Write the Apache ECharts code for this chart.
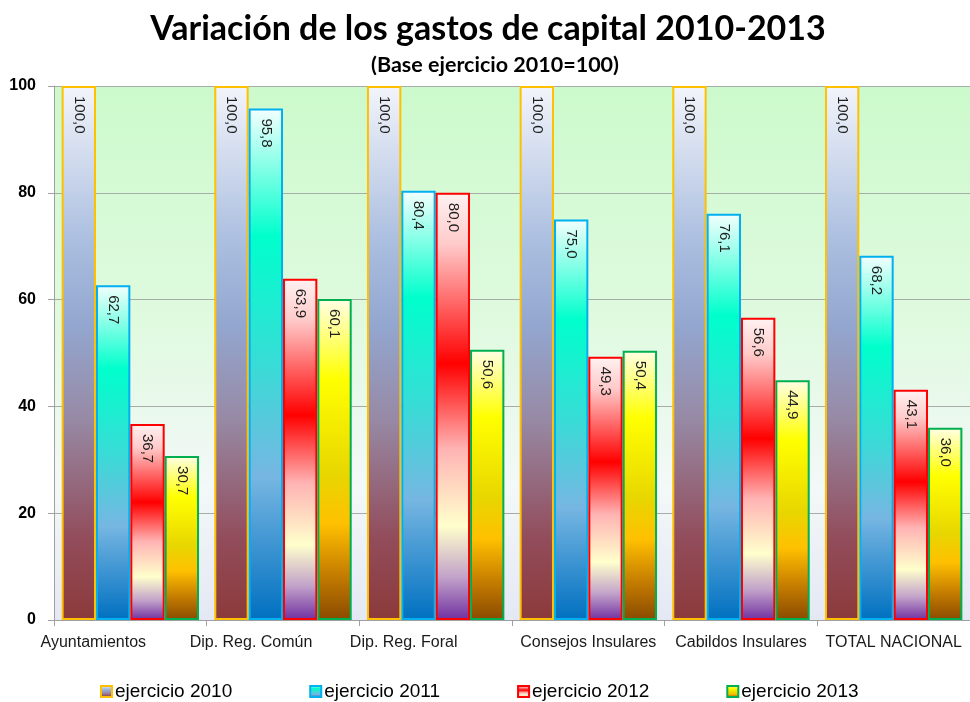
<!DOCTYPE html>
<html>
<head>
<meta charset="utf-8">
<script src="https://cdn.jsdelivr.net/npm/echarts@6/dist/echarts.min.js"></script>
<style>
  html, body { margin: 0; padding: 0; background: #ffffff; }
  #chart { width: 970px; height: 702px; }
</style>
</head>
<body>
<div id="chart"></div>
<script>
// Capital expenditure index by tier of local government, 2010 = 100
var categories = ['Ayuntamientos', 'Dip. Reg. Común', 'Dip. Reg. Foral', 'Consejos Insulares', 'Cabildos Insulares', 'TOTAL NACIONAL'];
var seriesNames = ['ejercicio 2010', 'ejercicio 2011', 'ejercicio 2012', 'ejercicio 2013'];
var values2010 = [100.0, 100.0, 100.0, 100.0, 100.0, 100.0];
var values2011 = [62.7, 95.8, 80.4, 75.0, 76.1, 68.2];
var values2012 = [36.7, 63.9, 80.0, 49.3, 56.6, 43.1];
var values2013 = [30.7, 60.1, 50.6, 50.4, 44.9, 36.0];
var yTicks = [0, 20, 40, 60, 80, 100];

// Use a condensed face when one is installed, otherwise plain Liberation Sans
function hasFont(name) {
  var c = document.createElement('canvas').getContext('2d');
  var s = 'Ayuntamientos TOTAL 0123456789';
  c.font = '20px monospace';
  var a = c.measureText(s).width;
  c.font = '20px "' + name + '", monospace';
  var b = c.measureText(s).width;
  return Math.abs(a - b) > 0.5;
}
var narrow = hasFont('Liberation Sans Narrow');
var axisFont = narrow ? '"Liberation Sans Narrow"' : '"Liberation Sans"';
var axisSize = narrow ? 19 : 16;
var labelSize = narrow ? 18 : 15;
var ySize = narrow ? 19 : 16;

var G = echarts.graphic.LinearGradient;
function vgrad(stops) {
  return new G(0, 0, 0, 1, stops.map(function (s) { return { offset: s[0], color: s[1] }; }));
}

var fills = [
  vgrad([[0, '#f2f4fa'], [0.3, '#a9bddf'], [0.45, '#93a6cf'], [0.62, '#978aa6'], [0.85, '#924c5a'], [1, '#8c3a3a']]),
  vgrad([[0, '#f4fffd'], [0.25, '#00ffcc'], [0.5, '#38dcd6'], [0.72, '#76b6e2'], [1, '#0070c0']]),
  vgrad([[0, '#fff2f2'], [0.12, '#ffcaca'], [0.4, '#ff0000'], [0.6, '#ffb4b4'], [0.78, '#ffffcc'], [0.9, '#c2a2ca'], [1, '#7030a0']]),
  vgrad([[0, '#ffffe6'], [0.25, '#ffff00'], [0.55, '#e8d600'], [0.7, '#ffc000'], [0.86, '#c47c00'], [1, '#8a4a00']])
];
var borders = ['#ffc000', '#00b0f0', '#ff0000', '#00b050'];
var seriesData = [values2010, values2011, values2012, values2013];

// the first three category labels sit left of their band centre
var labelShift = [74, 64, 64, 0, 0, 0];
var axisData = categories.map(function (c, i) {
  return { value: c, textStyle: { padding: [0, labelShift[i], 0, 0] } };
});

var series = seriesData.map(function (vals, i) {
  return {
    name: seriesNames[i],
    type: 'bar',
    data: vals,
    barGap: '0%',
    barCategoryGap: '10%',
    itemStyle: { color: fills[i], borderColor: borders[i], borderWidth: 2 },
    label: {
      show: true,
      position: 'insideTop',
      distance: 10,
      rotate: -90,
      align: 'left',
      verticalAlign: 'middle',
      fontFamily: axisFont,
      fontSize: labelSize,
      color: '#1e1e1e',
      formatter: function (p) { return p.value.toFixed(1).replace('.', ','); }
    }
  };
});

var chart = echarts.init(document.getElementById('chart'), null, { renderer: 'canvas' });
chart.setOption({
  animation: false,
  backgroundColor: '#ffffff',
  title: [
    {
      text: 'Variación de los gastos de capital 2010-2013',
      left: 483,
      textAlign: 'center',
      top: 7,
      textStyle: { fontFamily: 'Lato', fontWeight: 'bold', fontSize: 34, color: '#000000' }
    },
    {
      text: '(Base ejercicio 2010=100)',
      left: 490,
      textAlign: 'center',
      top: 49,
      textStyle: { fontFamily: 'Lato', fontWeight: 'bold', fontSize: 21.5, color: '#000000' }
    }
  ],
  legend: {
    data: seriesNames,
    left: 95,
    top: 677,
    itemWidth: 11,
    itemHeight: 11,
    itemGap: 77,
    icon: 'rect',
    textStyle: { fontFamily: '"Liberation Sans"', fontSize: 19, color: '#000000', padding: [0, 0, 0, -2] }
  },
  grid: {
    left: 54,
    top: 86,
    width: 922,
    height: 534,
    show: true,
    borderWidth: 0,
    backgroundColor: vgrad([[0, '#ccfacc'], [0.45, '#e0fae0'], [0.75, '#f3f8f8'], [1, '#e4e8f4']])
  },
  xAxis: {
    type: 'category',
    data: axisData,
    axisLine: { lineStyle: { color: '#a0a0a0', width: 1 } },
    axisTick: { show: true, length: 6, alignWithLabel: false, lineStyle: { color: '#a0a0a0' } },
    axisLabel: {
      interval: 0,
      margin: 15,
      fontFamily: axisFont,
      fontSize: axisSize,
      color: '#1a1a1a'
    }
  },
  yAxis: {
    type: 'value',
    min: yTicks[0],
    max: yTicks[yTicks.length - 1],
    interval: yTicks[1] - yTicks[0],
    axisLine: { show: true, lineStyle: { color: '#a0a0a0', width: 1 } },
    axisTick: { show: true, length: 6, lineStyle: { color: '#a0a0a0' } },
    splitLine: { lineStyle: { color: '#a8aca8', width: 1 } },
    axisLabel: {
      margin: 18,
      fontFamily: axisFont,
      fontWeight: 'bold',
      fontSize: ySize,
      color: '#000000'
    }
  },
  series: series
});
</script>
</body>
</html>
